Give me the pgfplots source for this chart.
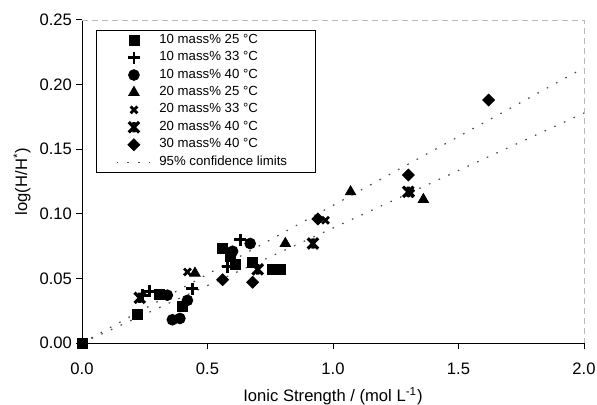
\documentclass[border=0pt]{standalone}
\usepackage{fontspec}
\setmainfont{Liberation Sans}
\usepackage{pgfplots}
\pgfplotsset{compat=1.18}

% Excel-like star marker: x with a short vertical bar
\pgfdeclareplotmark{xstar}{%
  \pgfpathmoveto{\pgfqpoint{-\pgfplotmarksize}{-\pgfplotmarksize}}%
  \pgfpathlineto{\pgfqpoint{\pgfplotmarksize}{\pgfplotmarksize}}%
  \pgfpathmoveto{\pgfqpoint{-\pgfplotmarksize}{\pgfplotmarksize}}%
  \pgfpathlineto{\pgfqpoint{\pgfplotmarksize}{-\pgfplotmarksize}}%
  \pgfpathmoveto{\pgfqpoint{0pt}{-\pgfplotmarksize}}%
  \pgfpathlineto{\pgfqpoint{0pt}{\pgfplotmarksize}}%
  \pgfusepathqstroke}

\begin{document}
\begin{tikzpicture}
\path[use as bounding box] (-41pt,-31pt) rectangle (257.5pt,171.5pt);
\begin{axis}[
scale only axis,
width=251pt,
height=161.5pt,
xmin=0,xmax=2,
ymin=0,ymax=0.25,
axis lines*=left,
axis line style={-,black,line width=0.5pt},
tick align=outside,
major tick length=3pt,
tick style={black,line width=0.5pt},
xtick={0,0.5,1,1.5,2},
ytick={0,0.05,0.1,0.15,0.2,0.25},
minor tick num=0,
xticklabel style={yshift=-3.5pt,/pgf/number format/.cd,fixed,fixed zerofill,precision=1},
yticklabel style={xshift=1.5pt,/pgf/number format/.cd,fixed,fixed zerofill,precision=2},
/pgf/number format/assume math mode=true,
tick label style={font=\fontsize{8.3}{10}\selectfont},
label style={font=\fontsize{8.3}{10}\selectfont},
xlabel={Ionic Strength / (mol L\textsuperscript{-1})},
ylabel={log(H/H\textsuperscript{*})},
xlabel style={at={(axis description cs:0.5,-0.164)},anchor=center},
ylabel style={at={(axis description cs:-0.1195,0.5)},anchor=center},
clip=false,
legend cell align=left,
legend style={at={(0.028,0.97)},anchor=north west,draw=black,line width=0.4pt,
  font=\fontsize{6.6}{7.5}\selectfont,row sep=-1.4pt,inner xsep=10pt,inner ysep=0pt,
  nodes={inner xsep=4pt}},
legend image post style={line width=0.4pt},
every axis plot/.append style={only marks,black},
]
\addplot[mark=square*,mark size=2.5pt] coordinates {
(0,0) (0.22,0.022) (0.31,0.038) (0.40,0.028) (0.56,0.073) (0.59,0.067)
(0.61,0.061) (0.68,0.062) (0.76,0.057) (0.79,0.057)};
\addlegendentry{10 mass\% 25 °C}
\addplot[mark=+,mark size=3pt,mark options={line width=1.4pt}] coordinates {
(0.24,0.037) (0.27,0.040) (0.44,0.042) (0.58,0.059) (0.63,0.080)};
\addlegendentry{10 mass\% 33 °C}
\addplot[mark=*,mark size=2.7pt] coordinates {
(0.34,0.037) (0.36,0.018) (0.39,0.019) (0.42,0.033) (0.60,0.071) (0.67,0.077)};
\addlegendentry{10 mass\% 40 °C}
\addplot[mark=triangle*,mark size=3pt] coordinates {
(0.45,0.054) (0.81,0.077) (1.07,0.117) (1.36,0.111)};
\addlegendentry{20 mass\% 25 °C}
\addplot[mark=x,mark size=2.4pt,mark options={line width=1.4pt}] coordinates {
(0.42,0.055) (0.97,0.095) (1.31,0.116)};
\addlegendentry{20 mass\% 33 °C}
\addplot[mark=xstar,mark size=2.6pt,mark options={line width=1.6pt}] coordinates {
(0.23,0.035) (0.70,0.057) (0.92,0.077) (1.30,0.117)};
\addlegendentry{20 mass\% 40 °C}
\addplot[mark=square*,mark size=2.1pt,mark options={rotate=45}] coordinates {
(0.56,0.049) (0.68,0.047) (0.94,0.096) (1.30,0.130) (1.62,0.188)};
\addlegendentry{30 mass\% 40 °C}
\addplot[no marks,sharp plot,line width=0.6pt,dash pattern=on 0.8pt off 4.5pt,gray!60!black] coordinates {(0,0) (2,0.213)};
\addlegendentry{95\% confidence limits}
\addplot[no marks,sharp plot,line width=0.6pt,dash pattern=on 0.8pt off 4.5pt,gray!60!black,forget plot] coordinates {(0,0) (2,0.178)};
\end{axis}
\draw[gray!55,densely dashed,line width=0.4pt] (current axis.north west) -- (current axis.north east) -- (current axis.south east);
\end{tikzpicture}
\end{document}
